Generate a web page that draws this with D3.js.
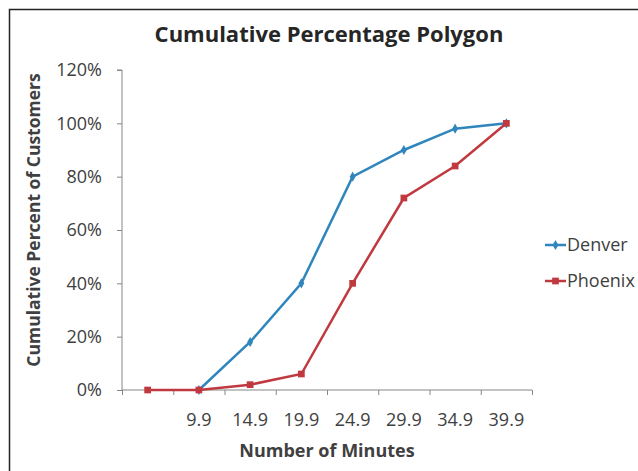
<!DOCTYPE html>
<html><head><meta charset="utf-8">
<script src="https://cdn.jsdelivr.net/npm/d3@7"></script>
<style>
html,body{margin:0;padding:0;background:#fff;}
svg{display:block;font-family:"Open Sans", sans-serif;}
</style></head>
<body>
<svg id="c" width="638" height="471"></svg>
<script>
const categories = ["", "9.9", "14.9", "19.9", "24.9", "29.9", "34.9", "39.9"];
const denver = [null, 0, 18, 40, 80, 90, 98, 100];
const phoenix = [0, 0, 2, 6, 40, 72, 84, 100];
const yTicks = [0, 20, 40, 60, 80, 100, 120];
const seriesNames = ["Denver", "Phoenix"];
const colors = ["#2f86bd", "#c0393f"];

const svg = d3.select("#c");
svg.append("rect").attr("x", 9.5).attr("y", 9.5).attr("width", 700).attr("height", 600)
  .attr("fill", "#fff").attr("stroke", "#222").attr("stroke-width", 1.5);

const x0 = 122, x1 = 532, y0 = 390, y1 = 70;
const xi = d3.scaleLinear().domain([0, categories.length]).range([x0, x1]);
const y = d3.scaleLinear().domain([0, 120]).range([y0, y1]);

const ya = svg.append("g").attr("transform", `translate(${x0},0)`)
  .call(d3.axisLeft(y).tickValues(yTicks).tickSize(5).tickPadding(15).tickFormat(d => d + "%"));
ya.select(".domain").attr("stroke", "#868686").attr("d", `M-5,${y1}H0V${y0}`);
ya.selectAll(".tick line").attr("stroke", "#868686");
ya.selectAll(".tick text").attr("font-size", 18).attr("fill", "#404040").attr("font-family", "Open Sans");

const xa = svg.append("g").attr("transform", `translate(0,${y0})`)
  .call(d3.axisBottom(xi).tickValues(d3.range(categories.length + 1)).tickSize(5).tickFormat(""));
xa.select(".domain").attr("stroke", "#868686").attr("d", `M${x0},0H${x1}`);
xa.selectAll(".tick line").attr("stroke", "#868686");
svg.append("g").selectAll("text").data(categories).join("text")
  .attr("x", (d, i) => xi(i + 0.5)).attr("y", 426)
  .attr("text-anchor", "middle").attr("font-size", 18).attr("fill", "#404040")
  .text(d => d);

svg.append("text").attr("x", 329).attr("y", 42).attr("text-anchor", "middle")
  .attr("font-size", 22).attr("font-weight", "bold").attr("fill", "#262626")
  .text("Cumulative Percentage Polygon");
svg.append("text").attr("x", 327).attr("y", 457).attr("text-anchor", "middle")
  .attr("font-size", 18).attr("font-weight", "bold").attr("fill", "#404040")
  .text("Number of Minutes");
svg.append("text").attr("transform", "translate(40,220) rotate(-90)").attr("text-anchor", "middle")
  .attr("font-size", 17.5).attr("font-weight", "bold").attr("fill", "#404040")
  .text("Cumulative Percent of Customers");

const line = d3.line().defined(d => d.v !== null).x(d => xi(d.i + 0.5)).y(d => y(d.v));
[denver, phoenix].forEach((vals, s) => {
  const pts = vals.map((v, i) => ({ i, v }));
  svg.append("path").datum(pts).attr("d", line).attr("fill", "none")
    .attr("stroke", colors[s]).attr("stroke-width", 2.5);
  const sym = d3.symbol().type(s === 0 ? d3.symbolDiamond : d3.symbolSquare).size(s === 0 ? 30 : 45);
  svg.append("g").selectAll("path").data(pts.filter(d => d.v !== null)).join("path")
    .attr("transform", d => `translate(${xi(d.i + 0.5)},${y(d.v)})`)
    .attr("d", sym).attr("fill", colors[s]);
});

seriesNames.forEach((n, s) => {
  const ly = 245 + s * 36;
  const g = svg.append("g");
  g.append("line").attr("x1", 545).attr("x2", 566).attr("y1", ly).attr("y2", ly)
    .attr("stroke", colors[s]).attr("stroke-width", 2.5);
  g.append("path").attr("transform", `translate(555.5,${ly})`)
    .attr("d", d3.symbol().type(s === 0 ? d3.symbolDiamond : d3.symbolSquare).size(s === 0 ? 30 : 45)())
    .attr("fill", colors[s]);
  g.append("text").attr("x", 567).attr("y", ly + 6).attr("font-size", 18).attr("fill", "#404040").text(n);
});
</script>
</body></html>
